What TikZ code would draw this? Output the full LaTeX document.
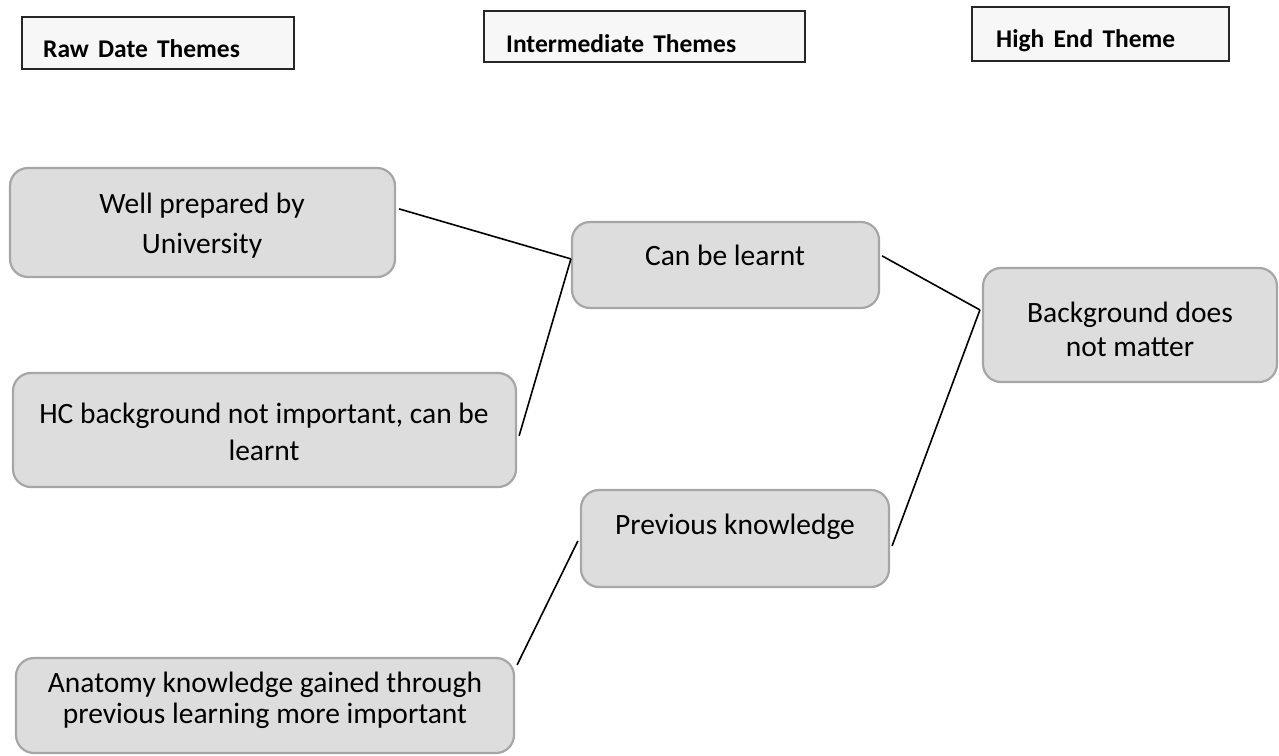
\documentclass[tikz,border=0pt]{standalone}
\usepackage{fontspec}
\setmainfont{Carlito}
\usetikzlibrary{calc}
\definecolor{boxfill}{HTML}{DDDDDD}
\definecolor{boxline}{HTML}{A6A6A6}
\definecolor{headfill}{HTML}{F7F7F7}
\newcommand{\headfont}{\fontsize{25.5}{28}\selectfont\bfseries\spaceskip 0.36em\relax}
\begin{document}
\begin{tikzpicture}[x=1pt,y=-1pt,
  theme/.style={draw=boxline, fill=boxfill, line width=2.2pt, rounded corners=18pt, inner sep=0pt},
  themetext/.style={inner sep=0pt, align=center, font=\fontsize{29.5}{40}\selectfont},
  head/.style={draw=black!85, fill=headfill, line width=2pt, inner sep=0pt},
  headtext/.style={anchor=base west, inner sep=0pt, font=\headfont},
  link/.style={line width=1.6pt, black}]
\useasboundingbox (0,0) rectangle (1279,755);

% header boxes
\node[head, minimum width=272pt, minimum height=52pt] (raw) at (158,43) {};
\node[headtext] (rawt) at (43,57) {Raw Date Themes};
\node[head, minimum width=321pt, minimum height=51pt] (inter) at (644.5,36.5) {};
\node[headtext] (intert) at (506,52) {Intermediate Themes};
\node[head, minimum width=257pt, minimum height=54pt] (high) at (1100.5,34) {};
\node[headtext] (hight) at (996,47) {High End Theme};

% theme boxes
\node[theme, minimum width=385pt, minimum height=109pt] (well) at (202.5,222.5) {};
\node[themetext] (wellt) at (202,226) {Well prepared by\\University};
\node[theme, minimum width=503pt, minimum height=114pt] (hc) at (264.5,430) {};
\node[themetext, font=\fontsize{29.5}{37}\selectfont] (hct) at (264,431.5) {HC background not important, can be\\learnt};
\node[theme, minimum width=498pt, minimum height=95pt] (anat) at (265,705.5) {};
\node[themetext, font=\fontsize{29.5}{31}\selectfont] (anatt) at (265,700.5) {Anatomy knowledge gained through\\previous learning more important};
\node[theme, minimum width=307pt, minimum height=86pt] (can) at (725.5,265) {};
\node[themetext] (cant) at (725,255) {Can be learnt};
\node[theme, minimum width=308pt, minimum height=97pt] (prev) at (735,538.5) {};
\node[themetext] (prevt) at (735,527) {Previous knowledge};
\node[theme, minimum width=294pt, minimum height=114pt] (bg) at (1130,325) {};
\node[themetext, font=\fontsize{29.5}{34}\selectfont] (bgt) at (1130,329) {Background does\\not matter};

% connectors
\draw[link] ($(well.north east)+(3,42)$) -- ($(can.north west)+(0,38)$);
\draw[link] ($(hc.north east)+(2,64)$) -- ($(can.north west)+(0,38)$);
\draw[link] ($(can.north east)+(2,35)$) -- ($(bg.north west)+(-2,43)$);
\draw[link] ($(prev.north east)+(2,57)$) -- ($(bg.north west)+(-2,43)$);
\draw[link] ($(anat.north east)+(2,8)$) -- ($(prev.north west)+(-2,52)$);
\end{tikzpicture}
\end{document}
